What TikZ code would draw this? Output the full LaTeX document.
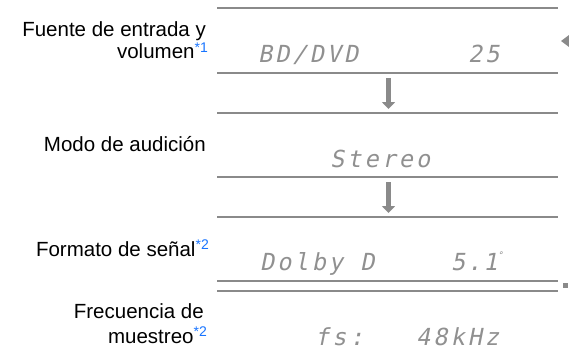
\documentclass[tikz,border=0pt]{standalone}
\usepackage{fontspec}
\setmainfont{Liberation Sans}
\newfontfamily\lcdfont{DejaVu Sans Mono}[FakeSlant=0.2,LetterSpace=13]
\usetikzlibrary{arrows.meta}
\definecolor{supblue}{HTML}{1874FF}
\definecolor{rulegray}{HTML}{8A8A8A}
\definecolor{lcdgray}{HTML}{909090}
\tikzset{
  x=1pt,y=-1pt,
  rule/.style={draw=rulegray,line width=1.6pt},
  lbl/.style={anchor=base east,inner sep=0pt,align=right,font=\fontsize{20.5}{20.5}\selectfont},
  lcd/.style={anchor=base west,inner sep=0pt,text=lcdgray,font=\lcdfont\fontsize{23.5}{23.5}\selectfont},
  bigarrow/.style={draw=rulegray,line width=5pt,-{Triangle[width=13pt,length=7pt]}},
  sidemark/.style={fill=rulegray,draw=none}
}
\newcommand{\fnref}[1]{\raisebox{0.32em}{\textcolor{supblue}{\fontsize{14}{14}\selectfont *#1}}}
\begin{document}
\begin{tikzpicture}
\useasboundingbox (0,0) rectangle (569,353);
% rules
\draw[rule] (217,8) -- (558,8);
\draw[rule] (217,73) -- (558,73);
\draw[rule] (217,113) -- (558,113);
\draw[rule] (217,177) -- (558,177);
\draw[rule] (217,217) -- (558,217);
\draw[rule] (217,281) -- (558,281);
\draw[rule] (217,291) -- (558,291);
% arrows
\coordinate (a1s) at (388.5,78);
\coordinate (a1e) at (388.5,109);
\coordinate (a2s) at (388.5,182);
\coordinate (a2e) at (388.5,213);
\draw[bigarrow] (a1s) -- (a1e);
\draw[bigarrow] (a2s) -- (a2e);
% side marks
\fill[sidemark] (561,41) -- (569,35) -- (569,47) -- cycle;
\fill[sidemark] (563,283) rectangle (568,288);
% labels
\node[lbl] (l1a) at (206,36.5) {Fuente de entrada y};
\node[lbl] (l1b) at (208,59) {volumen\fnref{1}};
\node[lbl] (l2) at (206,151) {Modo de audición};
\node[lbl] (l3) at (209,256) {Formato de señal\fnref{2}};
\node[lbl] (l4a) at (204,318) {Frecuencia de};
\node[lbl] (l4b) at (207,343) {muestreo\fnref{2}};
% display texts
\node[lcd] (d1a) at (258,63) {BD/DVD};
\node[lcd] (d1b) at (468,63) {25};
\node[lcd] (d2) at (330,167) {Stereo};
\node[lcd] (d3a) at (260,270) {Dolby D};
\node[lcd] (d3b) at (451,270) {5\hspace{2pt}.\hspace{2pt}1\raisebox{0.5em}{\fontsize{9}{9}\selectfont°}};
\node[lcd] (d4a) at (315,345) {fs:};
\node[lcd] (d4b) at (416,345) {48kHz};
\end{tikzpicture}
\end{document}
